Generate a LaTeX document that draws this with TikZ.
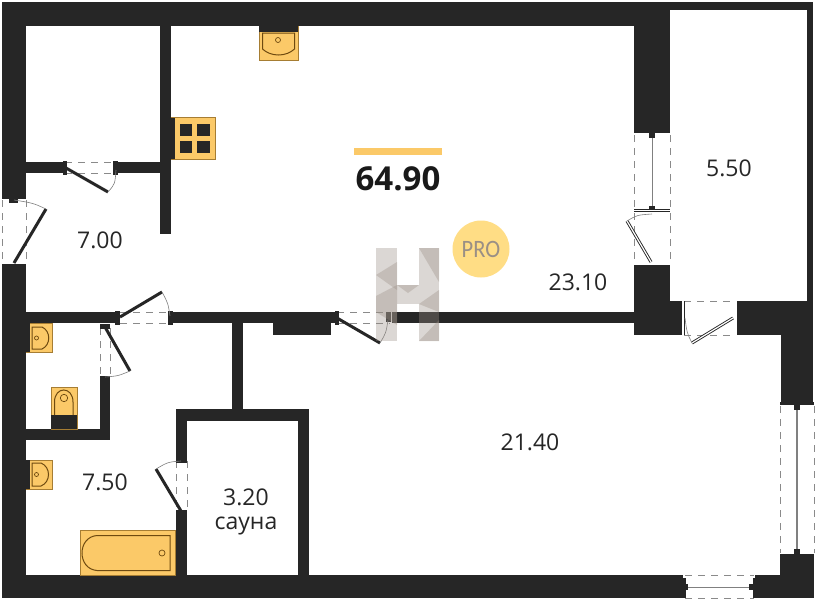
\documentclass[tikz,border=0pt]{standalone}
\usepackage{fontspec}
\setmainfont{Open Sans}
\newfontfamily\totalfont{Open Sans}
\newfontfamily\profont[FakeStretch=0.9]{Carlito}
\definecolor{wallcol}{HTML}{262626}
\definecolor{fixcol}{HTML}{FBC968}
\definecolor{fixline}{HTML}{6E4A10}
\definecolor{dashcol}{HTML}{8A8A8A}
\definecolor{markcol}{HTML}{9A8F85}
\definecolor{procol}{HTML}{FFDD85}
\tikzset{
  wall/.style={fill=wallcol},
  opening/.style={draw=dashcol, line width=1pt, dash pattern=on 7pt off 6pt},
  leaf/.style={draw=wallcol, line width=3pt},
  swing/.style={draw=gray, line width=0.6pt},
  glassleaf/.style={draw=wallcol, line width=3pt, postaction={draw=white, line width=1.2pt}},
  glass/.style={draw=gray, line width=1.2pt},
  fixture/.style={draw=fixline!60!fixcol, fill=fixcol, line width=0.6pt},
  fixinner/.style={draw=fixline, line width=1pt},
  area/.style={font=\fontsize{23}{28}\selectfont, text=black!85},
  facet/.style={fill=markcol, opacity=0.35}
}
\begin{document}
\begin{tikzpicture}[line cap=butt, line join=miter, x=1pt, y=-1pt]
  \useasboundingbox (0,0) rectangle (816,600);
  \fill[white] (0,0) rectangle (816,600);

  % outer walls
  \fill[wall] (2,2) rectangle (813,10);
  \fill[wall] (2,2) rectangle (670,26);
  \fill[wall] (2,2) rectangle (26,198);
  \fill[wall] (2,265) rectangle (26,598);
  \fill[wall] (2,575) rectangle (683,598);
  \fill[wall] (755,575) rectangle (814,598);
  \fill[wall] (634,26) rectangle (670,133);
  \fill[wall] (634,265) rectangle (670,335);
  \fill[wall] (670,301) rectangle (682,335);
  \fill[wall] (737,301) rectangle (813,335);
  \fill[wall] (807,2) rectangle (813,335);
  \fill[wall] (781,335) rectangle (813,403);
  \fill[wall] (780,555) rectangle (814,598);

  % inner walls
  \fill[wall] (160,26) rectangle (171,234);
  \fill[wall] (26,162) rectangle (63,173);
  \fill[wall] (117,162) rectangle (160,173);
  \fill[wall] (26,312) rectangle (117,323);
  \fill[wall] (172,312) rectangle (335,323);
  \fill[wall] (392,312) rectangle (634,323);
  \fill[wall] (273,323) rectangle (331,335);
  \fill[wall] (232,323) rectangle (243,410);
  \fill[wall] (176,409) rectangle (309,421);
  \fill[wall] (176,409) rectangle (187,458);
  \fill[wall] (176,512) rectangle (187,575);
  \fill[wall] (298,409) rectangle (309,575);
  \fill[wall] (100,378) rectangle (110,440);
  \fill[wall] (26,429) rectangle (110,440);

  % doors
  \draw[opening] (65,162.5) -- (115,162.5);
  \draw[opening] (65,173) -- (115,173);
  \fill[wall] (63,161) rectangle (67,175);
  \fill[wall] (113,161) rectangle (118,175);
  \draw[leaf] (66,168) -- (108,192);
  \draw[swing] (108,192) .. controls (115,184) .. (116,170);

  \draw[opening] (2,200) -- (2,264);
  \draw[opening] (26,200) -- (26,264);
  \fill[wall] (2,197) rectangle (26,199);
  \fill[wall] (9,199) rectangle (18,203);
  \fill[wall] (2,264) rectangle (26,267);
  \draw[leaf] (14,263) -- (46,209);
  \draw[swing] (46,209) .. controls (33,203) .. (14,200);

  \draw[opening] (120,312) -- (170,312);
  \draw[opening] (120,323) -- (170,323);
  \fill[wall] (115,311) rectangle (120,325);
  \fill[wall] (168,311) rectangle (173,325);
  \draw[leaf] (120,317) -- (162,292);
  \draw[swing] (162,292) .. controls (168,303) .. (170,316);

  \draw[opening] (100,328) -- (100,376);
  \draw[opening] (110.5,328) -- (110.5,376);
  \fill[wall] (100,324) rectangle (110,329);
  \fill[wall] (100,376) rectangle (110,380);
  \draw[leaf] (105,327) -- (130,371);
  \draw[swing] (130,371) .. controls (118,376) .. (105,377);

  \draw[opening] (176,461) -- (176,510);
  \draw[opening] (187,461) -- (187,510);
  \fill[wall] (176,458) rectangle (187,463);
  \fill[wall] (176,510) rectangle (187,514);
  \draw[leaf] (181,511) -- (156,469);
  \draw[swing] (156,469) .. controls (168,462) .. (181,461);

  \draw[opening] (337,312) -- (390,312);
  \draw[opening] (337,323) -- (390,323);
  \fill[wall] (335,311) rectangle (339,325);
  \fill[wall] (386,312) rectangle (391,322);
  \draw[leaf] (337,318) -- (380,343);
  \draw[swing] (380,343) .. controls (386,333) .. (388,320);

  % balcony window and door
  \draw[opening] (634,135) -- (634,264);
  \draw[opening] (670,135) -- (670,264);
  \draw[glass] (652.5,135) -- (652.5,209);
  \fill[wall] (649,133) rectangle (655,138);
  \fill[wall] (649,206) rectangle (655,210);
  \draw[glassleaf] (634,210.5) -- (670,210.5);
  \draw[glassleaf] (634,264) -- (670,264);
  \draw[glassleaf] (627,221) -- (651,262);
  \draw[swing] (627,221) .. controls (637,215) .. (652,214);

  \draw[opening] (684,301) -- (736,301);
  \draw[opening] (684,335) -- (736,335);
  \draw[glassleaf] (683,301) -- (683,335);
  \draw[glassleaf] (736,301) -- (736,335);
  \draw[glassleaf] (692,343) -- (733,318);
  \draw[swing] (692,343) .. controls (687,333) .. (685,318);

  % windows on the right and below
  \fill[wall] (780,402) rectangle (814,405);
  \fill[wall] (780,554) rectangle (814,556);
  \draw[opening] (780,406) -- (780,553);
  \draw[opening] (814,406) -- (814,553);
  \draw[glass] (797,408) -- (797,551);
  \fill[wall] (794,404) rectangle (800,410);
  \fill[wall] (794,549) rectangle (800,555);

  \draw[opening] (685,575.5) -- (754,575.5);
  \draw[opening] (685,598) -- (754,598);
  \draw[gray, line width=0.8pt] (684,587) -- (752,587);
  \fill[wall] (681,578) rectangle (686,598);
  \fill[wall] (753,578) rectangle (756,598);
  \fill[wall] (682,584) rectangle (688,590);
  \fill[wall] (749,584) rectangle (755,590);

  % kitchen
  \filldraw[fixture] (259,26) rectangle (298,60);
  \fill[wall] (259,26) rectangle (298,32);
  \draw[fixinner] (262.5,33) -- (294.5,33) -- (294.5,49) .. controls (286,57) and (271,57) .. (262.5,49) -- cycle;
  \draw[fixinner, line width=0.7pt] (278,40) circle (2.5);

  \filldraw[fixture] (171,117.5) rectangle (215,159);
  \fill[wall] (171,117.5) rectangle (175,159);
  \fill[wall] (180,124) rectangle (192,136);
  \fill[wall] (197,124) rectangle (210,136);
  \fill[wall] (180,141) rectangle (192,153);
  \fill[wall] (197,141) rectangle (210,153);

  % bathroom
  \filldraw[fixture] (26,323) rectangle (52,352);
  \fill[wall] (26,323) rectangle (30,352);
  \draw[fixinner] (32,327) -- (42,327) .. controls (51,331) and (51,345) .. (42,349) -- (32,349) -- cycle;
  \draw[fixinner, line width=0.7pt] (36.5,338) circle (2);

  \filldraw[fixture] (51,387.5) rectangle (77,429);
  \fill[wall] (51,415) rectangle (77,429);
  \draw[fixinner] (54.5,415) -- (54.5,402) .. controls (54.5,386) and (73,386) .. (73,402) -- (73,415);
  \draw[fixinner, line width=0.7pt] (64,398) circle (3.7);

  \filldraw[fixture] (26,460) rectangle (52,489);
  \fill[wall] (26,460) rectangle (30,489);
  \draw[fixinner] (32,463) -- (41,463) .. controls (51,467) and (51,482) .. (41,486) -- (32,486) -- cycle;
  \draw[fixinner, line width=0.7pt] (36.5,474.5) circle (2);

  \filldraw[fixture] (80,530) rectangle (175,575);
  \draw[fixinner] (170,535.5) -- (97,535.5) .. controls (77,537) and (77,569) .. (97,570.5) -- (170,570.5) -- cycle;
  \draw[fixinner, line width=0.7pt] (162,553) circle (3);

  % watermark
  \fill[facet] (376,248) rectangle (397,341);
  \fill[facet] (419,248) rectangle (439,341);
  \fill[facet] (397,285) rectangle (419,304);
  \fill[facet] (397,262) -- (376,275) -- (397,290) -- cycle;
  \fill[facet] (376,296) -- (397,285) -- (397,325) -- (376,312) -- cycle;
  \fill[facet] (419,248) -- (439,248) -- (439,282) -- cycle;
  \fill[facet] (419,304) -- (439,290) -- (439,312) -- cycle;
  \fill[facet] (397,285) -- (419,285) -- (408,293) -- cycle;
  \fill[facet] (439,320) -- (419,341) -- (439,341) -- cycle;

  % labels
  \fill[fixcol] (354,148) rectangle (442,155);
  \node[font=\totalfont\bfseries\fontsize{33}{36}\selectfont, text=black!90] (total) at (398,179) {64.90};
  \fill[procol] (481,249) circle (28.5);
  \node[font=\profont\fontsize{25}{30}\selectfont, text=markcol] (pro) at (481,249) {PRO};

  \node[area] (hall) at (100,240) {7.00};
  \node[area] (bath) at (105,482) {7.50};
  \node[area] (sauna) at (246,497) {3.20};
  \node[area] (saunaname) at (246,526) {сауна};
  \node[area] (balcony) at (729,168) {5.50};
  \node[area] (kitchen) at (578,282) {23.10};
  \node[area] (living) at (530,442) {21.40};
\end{tikzpicture}
\end{document}
